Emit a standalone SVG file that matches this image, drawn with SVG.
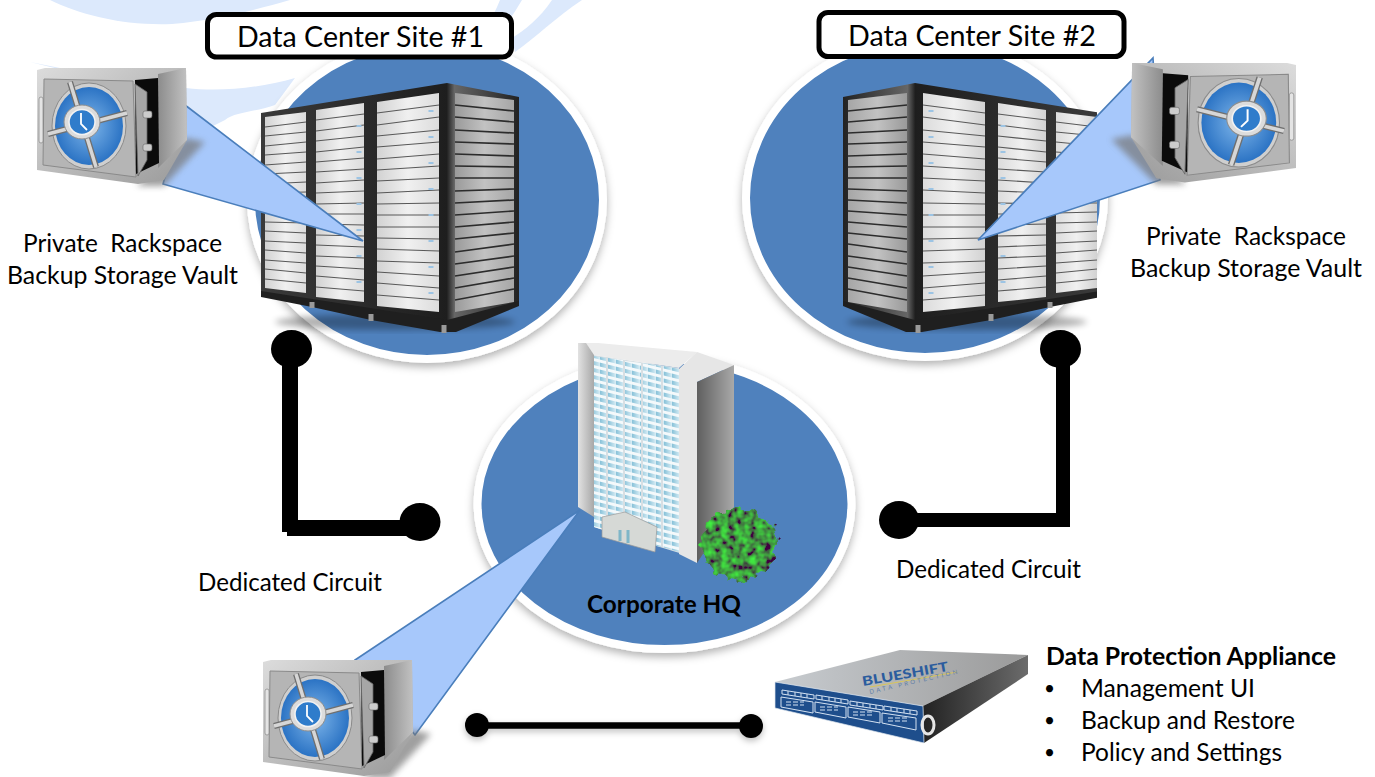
<svg xmlns="http://www.w3.org/2000/svg" xmlns:xlink="http://www.w3.org/1999/xlink" width="1375" height="777" viewBox="0 0 1375 777">
<style>
.t{font-family:"Lato","Carlito","Noto Sans",sans-serif;fill:#000;font-size:25px;white-space:pre}
.b{font-weight:700}
.bul{font-size:19px}
.lbl{fill:#fff;stroke:#000;stroke-width:5}
.disc{fill:#4f81bd;stroke:#fff;stroke-width:8}
.call{fill:#a7c8fb;stroke:#4a7ebb;stroke-width:1.6}
.swoosh{fill:#dce9fc}
.blade{fill:none;stroke:#585858;stroke-width:1.1}
.bladeS{fill:none;stroke:#2c2c2c;stroke-width:1.7}
.led{fill:none;stroke:#9cc4e4;stroke-width:5;stroke-dasharray:2 24}
</style>
<defs>
<filter id="sh" x="-10%" y="-10%" width="120%" height="125%"><feDropShadow dx="0" dy="4" stdDeviation="4" flood-color="#000" flood-opacity=".3"/></filter>
<filter id="lineSh" x="-5%" y="-200%" width="110%" height="600%"><feDropShadow dx="0" dy="3" stdDeviation="3" flood-color="#000" flood-opacity=".25"/></filter>
<filter id="soft" x="-20%" y="-20%" width="140%" height="140%"><feGaussianBlur stdDeviation="3"/></filter>
<filter id="leaf" x="-15%" y="-15%" width="130%" height="130%">
<feTurbulence type="fractalNoise" baseFrequency=".14" numOctaves="2" seed="4" result="n"/>
<feDisplacementMap in="SourceGraphic" in2="n" scale="13" xChannelSelector="R" yChannelSelector="G" result="d"/>
<feColorMatrix in="n" type="matrix" values="0 0 0 0 .05  1.5 0 0 0 -.42  0 0 0 0 .05  0 0 0 0 1" result="g"/>
<feComposite in="g" in2="d" operator="in"/>
</filter>
<linearGradient id="col" x1="0" x2="1" y1="0" y2="0"><stop offset="0" stop-color="#d2d2d2"/><stop offset=".5" stop-color="#f0f0f0"/><stop offset="1" stop-color="#dcdcdc"/></linearGradient>
<linearGradient id="side" x1="0" x2="1" y1="0" y2="0"><stop offset="0" stop-color="#9a9a9a"/><stop offset=".5" stop-color="#c2c2c2"/><stop offset="1" stop-color="#a6a6a6"/></linearGradient>
<linearGradient id="frame" x1="0" x2="1" y1="0" y2="0"><stop offset="0" stop-color="#3a3a3a"/><stop offset=".72" stop-color="#1e1e1e"/><stop offset=".75" stop-color="#666"/><stop offset="1" stop-color="#222"/></linearGradient>
<linearGradient id="steel" x1="0" x2="1" y1="0" y2="1"><stop offset="0" stop-color="#dcdcdc"/><stop offset="1" stop-color="#9a9a9a"/></linearGradient>
<linearGradient id="steelS" x1="0" x2="1" y1="0" y2="0"><stop offset="0" stop-color="#8c8c8c"/><stop offset="1" stop-color="#c2c2c2"/></linearGradient>
<radialGradient id="dial"><stop offset="0" stop-color="#7fb6ea"/><stop offset="1" stop-color="#2b73c4"/></radialGradient>
<linearGradient id="bldS" x1="0" x2="1" y1="0" y2="0"><stop offset="0" stop-color="#5f5f5f"/><stop offset="1" stop-color="#a9a9a9"/></linearGradient>
<linearGradient id="pier" x1="0" x2="1" y1="0" y2="0"><stop offset="0" stop-color="#e2e2e2"/><stop offset="1" stop-color="#a8a8a8"/></linearGradient>
<linearGradient id="win" x1="0" x2="1" y1="0" y2="0"><stop offset="0" stop-color="#87c1d8"/><stop offset="1" stop-color="#d8edf5"/></linearGradient>
<pattern id="floors" width="8" height="7" patternUnits="userSpaceOnUse" patternTransform="skewY(14)"><rect width="8" height="7" fill="url(#win)"/><rect width="8" height="3" fill="#f4f9fb"/></pattern>
<linearGradient id="appS" x1="0" x2="1" y1="0" y2="0"><stop offset="0" stop-color="#222"/><stop offset="1" stop-color="#6c6c6c"/></linearGradient>
<linearGradient id="appT" x1="0" x2="1" y1="0" y2="0"><stop offset="0" stop-color="#c8ccd0"/><stop offset="1" stop-color="#9a9a9a"/></linearGradient>
<clipPath id="clip2"><rect x="800" y="60" width="297" height="290"/></clipPath>
<g id="rack">
<ellipse cx="395" cy="322" rx="120" ry="8" fill="#000" opacity=".3" filter="url(#soft)"/>
<polygon points="261,113 447,83 519,97 519,303 447,322 261,293" fill="url(#frame)"/>
<polygon points="261,291 447,320 519,301 519,306 456,332 440,332 371,320 312,307 261,297" fill="#1f1f1f"/>
<path d="M312,302v6M371,314v7M444,325v8" stroke="#9a9a9a" stroke-width="5"/>
<polygon points="265,117 306,112 306,293 265,288" fill="url(#col)"/>
<polygon points="316,110 364,103 364,302 316,297" fill="url(#col)"/>
<polygon points="377,102 439,93 439,312 377,306" fill="url(#col)"/>
<polygon points="455,93 514,100 514,302 455,312" fill="url(#side)"/>
<path class="blade" d="M265 127L306 122M265 136L306 132M265 146L306 142M265 155L306 152M265 165L306 162M265 174L306 172M265 184L306 182M265 193L306 192M265 203L306 203M265 212L306 213M265 222L306 223M265 231L306 233M265 241L306 243M265 250L306 253M265 260L306 263M265 269L306 273M265 279L306 283"/>
<path class="blade" d="M316 120L364 114M316 131L364 125M316 141L364 136M316 152L364 147M316 162L364 158M316 172L364 169M316 183L364 180M316 193L364 191M316 204L364 203M316 214L364 214M316 224L364 225M316 235L364 236M316 245L364 247M316 256L364 258M316 266L364 269M316 276L364 280M316 287L364 291"/>
<path class="blade" d="M377 113L439 105M377 125L439 117M377 136L439 130M377 147L439 142M377 159L439 154M377 170L439 166M377 181L439 178M377 193L439 190M377 204L439 203M377 215L439 215M377 227L439 227M377 238L439 239M377 249L439 251M377 261L439 263M377 272L439 276M377 283L439 288M377 295L439 300"/>
<path class="bladeS" d="M455 105L514 111M455 117L514 122M455 130L514 133M455 142L514 144M455 154L514 156M455 166L514 167M455 178L514 178M455 191L514 189M455 203L514 200M455 215L514 211M455 227L514 222M455 239L514 233M455 252L514 244M455 264L514 256M455 276L514 267M455 288L514 278M455 300L514 289"/>
<path class="led" d="M359 125V295M431 110V310"/>
</g>
<g id="safe">
<polygon points="149,70 168,74 127,118 100,118" fill="#777" opacity=".7" filter="url(#soft)"/>
<polygon points="0,2 8,0 149,0 150,72 127,112 101,116 0,102" fill="url(#steel)"/>
<polygon points="121,6 149,0 150,72 121,100" fill="url(#steelS)"/>
<polygon points="7,11 96,13 99,109 6,97" fill="#b5b5b5" stroke="#8a8a8a" stroke-width="1"/>
<polygon points="98,12 121,10 122,95 99,106" fill="#0b0b0b"/>
<polygon points="98,16 110,24 110,92 101,108" fill="#a6a6a6" stroke="#666" stroke-width=".8"/>
<rect x="2" y="29" width="4" height="46" rx="2" fill="#e4e4e4" stroke="#888" stroke-width=".7"/>
<rect x="106" y="43" width="9" height="7" rx="2" fill="#ccc" stroke="#666" stroke-width=".6"/>
<rect x="106" y="76" width="9" height="7" rx="2" fill="#ccc" stroke="#666" stroke-width=".6"/>
<ellipse cx="52" cy="58" rx="37" ry="43" fill="#cfcfcf" stroke="#8b8b8b"/>
<ellipse cx="52" cy="58" rx="34" ry="39" fill="url(#dial)"/>
<path d="M33 14L59 99M11 66L90 45" stroke="#6f6f6f" stroke-width="6" fill="none"/>
<path d="M33 14L59 99M11 66L90 45" stroke="#d6d6d6" stroke-width="3.500" fill="none"/>
<ellipse cx="45" cy="54" rx="18" ry="17" fill="#dcdcdc" stroke="#8d8d8d"/>
<ellipse cx="45" cy="54" rx="13" ry="12.500" fill="#2f7ccb" stroke="#f2f2f2" stroke-width="1.500"/>
<path d="M44 45V56L50 62" stroke="#fff" stroke-width="1.800" fill="none"/>
</g>
</defs>

<g id="background">
<path class="swoosh" d="M50,0C80,15 125,26 172,24C215,20 255,10 290,0Z"/>
<path class="swoosh" d="M30,62L60,68L186,88C220,92 260,88 295,78L275,105C255,112 235,112 225,120L195,135L186,100Z"/>
<path class="swoosh" d="M515,52C535,38 555,18 582,0L552,0C540,18 525,30 512,38Z"/>
<path class="swoosh" d="M478,58C495,42 510,20 522,0L500,0C492,20 480,38 468,52Z"/>
</g>

<g id="site1">
<ellipse class="disc" cx="427" cy="200" rx="176" ry="159" filter="url(#sh)"/>
<use href="#rack"/>
</g>

<g id="site2">
<ellipse class="disc" cx="925" cy="198" rx="179" ry="159" filter="url(#sh)"/>
<g clip-path="url(#clip2)"><use href="#rack" transform="translate(1362,0) scale(-1,1)"/></g>
</g>

<g id="hq">
<ellipse class="disc" cx="664.500" cy="504" rx="187" ry="145" filter="url(#sh)"/>
<polygon points="578,343 594,343 594,517 578,507" fill="url(#pier)"/>
<polygon points="594,355 679,368 686,555 594,527" fill="#d8dfe3"/>
<polygon points="598,343 697,352 679,368 594,355 586,343" fill="#ececec"/>
<polygon points="594,356 606,358 606,531 594,527" fill="url(#floors)"/>
<polygon points="608,358 623,360 623,536 608,531" fill="url(#floors)"/>
<polygon points="625,361 641,363 641,541 625,536" fill="url(#floors)"/>
<polygon points="643,363 661,366 661,547 643,542" fill="url(#floors)"/>
<polygon points="663,366 679,369 679,552 663,547" fill="url(#floors)"/>
<polygon points="679,369 697,352 734,365 697,382 697,563 679,554" fill="#e6e6e6"/>
<polygon points="697,382 734,365 734,507 697,563" fill="url(#bldS)"/>
<polygon points="602,517 625,512 657,527 655,552 602,537" fill="#d6d9d6" stroke="#9a9a9a" stroke-width=".7"/>
<path d="M620 530V541M628 530V543" stroke="#7fb6c8" stroke-width="3"/>
<g id="bush"><ellipse cx="739" cy="544" rx="38" ry="36" fill="#2a7c22" filter="url(#leaf)"/></g>
<text class="t b" x="587" y="613" textLength="154" lengthAdjust="spacingAndGlyphs">Corporate HQ</text>
</g>

<g id="callouts">
<polygon class="call" points="185,105 363,241 163,184"/>
<polygon class="call" points="978,240 1153,58 1160,180"/>
<polygon class="call" points="580,510 355,660 415,735"/>
</g>

<g id="vault1"><use href="#safe" transform="translate(37,68)"/></g>
<g id="vault2"><use href="#safe" transform="translate(1296,63) scale(-1.1,1.03)"/></g>
<g id="vault3"><use href="#safe" transform="translate(263,660)"/></g>

<g id="appliance">
<polygon points="775,682 900,650 1028,655 923,706" fill="url(#appT)"/>
<polygon points="923,706 1028,655 1028,674 924,743" fill="url(#appS)"/>
<polygon points="775,682 923,706 924,743 775,708" fill="#1e4e8c" stroke="#dfe6ee" stroke-width=".7"/>
<ellipse cx="928" cy="725" rx="6" ry="9" fill="none" stroke="#e6e6e6" stroke-width="3"/>
<g fill="none" stroke="#d4e2f2" stroke-width="1">
<path d="M782 690l32 5v4l-32-5zM788 691v4M795 692v4M801 693v4M807 694v4"/>
<path d="M816 695l32 5v4l-32-5zM822 696v4M829 697v4M835 698v4M841 699v4"/>
<path d="M850 701l33 5v4l-33-5zM857 702v4M863 703v4M870 704v4M876 705v4"/>
<path d="M884 706l33 5v4l-33-5zM891 707v4M897 708v4M904 709v4M910 710v4"/>
<path d="M781 697l32 5v11l-32-6zM815 702l31 5v11l-31-6zM848 707l32 5v11l-32-6zM882 713l34 5v12l-34-7z"/>
<path d="M786 702h18M786 705h18M820 707h18M820 710h18M853 712h20M853 715h20M888 718h20M888 721h20" stroke-dasharray="5 2"/>
</g>
<text transform="translate(863,686) rotate(-10)" font-family="Lato,'Liberation Sans',sans-serif" font-size="13" font-weight="900" fill="#2b5c9e" textLength="87" lengthAdjust="spacingAndGlyphs">BLUESHIFT</text>
<path d="M870 687L957 672" stroke="#d8c55a" stroke-width="1.2"/>
<text transform="translate(870,694) rotate(-13)" font-family="Lato,'Liberation Sans',sans-serif" font-size="6" fill="#5f7fa8" textLength="90" lengthAdjust="spacing">DATA PROTECTION</text>
</g>

<g id="connectors">
<path d="M282,350H298V520H420V536H287V532H282Z" fill="#000"/>
<ellipse cx="291.500" cy="349" rx="20.500" ry="19"/>
<ellipse cx="420" cy="522" rx="20.500" ry="19"/>
<path d="M899,513H1056V349H1070V527H899Z" fill="#000"/>
<ellipse cx="1060.500" cy="349" rx="20.500" ry="19"/>
<ellipse cx="899" cy="520" rx="20" ry="19"/>
<g filter="url(#lineSh)"><path d="M477,725.500H751" stroke="#000" stroke-width="6.500" fill="none"/>
<ellipse cx="477" cy="725" rx="12" ry="12"/>
<ellipse cx="751" cy="726" rx="12" ry="12"/></g>
</g>

<g id="label1"><rect class="lbl" x="207.500" y="14.500" width="304" height="42.500" rx="9"/>
<text class="t" style="font-size:28px" x="237" y="47" textLength="247" lengthAdjust="spacingAndGlyphs">Data Center Site #1</text></g>
<g id="label2"><rect class="lbl" x="819" y="12.500" width="305" height="44" rx="9"/>
<text class="t" style="font-size:28px" x="848" y="46" textLength="248" lengthAdjust="spacingAndGlyphs">Data Center Site #2</text></g>

<g id="texts">
<text class="t" x="23" y="252" textLength="199" lengthAdjust="spacingAndGlyphs">Private  Rackspace</text>
<text class="t" x="7" y="284" textLength="231" lengthAdjust="spacingAndGlyphs">Backup Storage Vault</text>
<text class="t" x="1146" y="245" textLength="200" lengthAdjust="spacingAndGlyphs">Private  Rackspace</text>
<text class="t" x="1130" y="277" textLength="232" lengthAdjust="spacingAndGlyphs">Backup Storage Vault</text>
<text class="t" x="198" y="591" textLength="184" lengthAdjust="spacingAndGlyphs">Dedicated Circuit</text>
<text class="t" x="896" y="578" textLength="185" lengthAdjust="spacingAndGlyphs">Dedicated Circuit</text>
<text class="t b" x="1046" y="665" textLength="290" lengthAdjust="spacingAndGlyphs">Data Protection Appliance</text>
<text class="t bul" x="1044" y="695">•</text><text class="t" x="1081" y="697" textLength="174" lengthAdjust="spacingAndGlyphs">Management UI</text>
<text class="t bul" x="1044" y="727">•</text><text class="t" x="1081" y="729" textLength="214" lengthAdjust="spacingAndGlyphs">Backup and Restore</text>
<text class="t bul" x="1044" y="759">•</text><text class="t" x="1081" y="761" textLength="201" lengthAdjust="spacingAndGlyphs">Policy and Settings</text>
</g>
</svg>
